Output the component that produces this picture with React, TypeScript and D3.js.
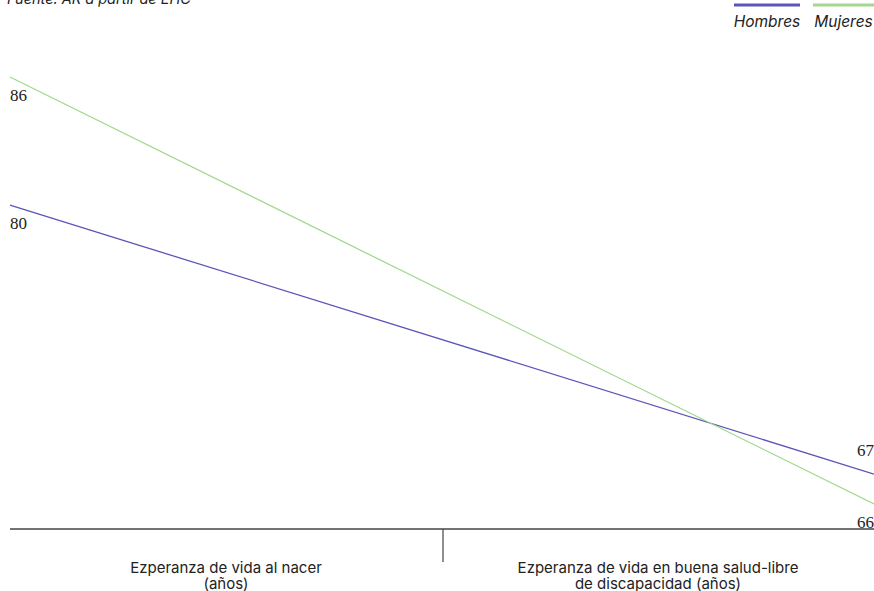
import React from "react";
import * as d3 from "d3";

const categories = ["Ezperanza de vida al nacer|(años)", "Ezperanza de vida en buena salud-libre|de discapacidad (años)"];
const seriesNames = ["Hombres", "Mujeres"];
const hombres = [80.0, 67.4];
const mujeres = [86.0, 66.0];
const colors = ["#5b55b9", "#a3d88f"];

const W = 874;
const H = 591;

export default function App() {
  const x = d3.scalePoint<string>().domain(categories).range([10, 874]);
  const band = d3.scaleBand<string>().domain(categories).range([10, 874]);
  const y = d3.scaleLinear().domain([66, 86]).range([504, 77]);
  const line = d3
    .line<number>()
    .x((_, i) => x(categories[i]) as number)
    .y((d) => y(d));
  const series = [hombres, mujeres];
  const fmt = d3.format(".0f");
  const axisY = 529;
  const sans = "Inter, 'Noto Sans', sans-serif";
  const serif = "'Liberation Serif', 'DejaVu Serif', serif";
  const topEnd = series.reduce((a, b) => (a[1] > b[1] ? a : b));
  return (
    <svg
      width={W}
      height={H}
      style={{ position: "absolute", left: 0, top: 0, background: "#fff" }}
    >
      <text x={7} y={4} fontFamily={sans} fontStyle="italic" fontSize={14.5} fill="#222">
        Fuente: AR a partir de EHC
      </text>
      {seriesNames.map((n, i) => {
        const lx = i === 0 ? 734 : 813;
        const lw = i === 0 ? 66 : 61;
        return (
          <g key={n}>
            <line x1={lx} x2={lx + lw} y1={5} y2={5} stroke={colors[i]} strokeWidth={3} />
            <text x={lx + lw / 2} y={27} textAnchor="middle" fontFamily={sans} fontStyle="italic" fontSize={15.5} fill="#222">
              {n}
            </text>
          </g>
        );
      })}
      {series.map((s, i) => (
        <path key={i} d={line(s) || ""} fill="none" stroke={colors[i]} strokeWidth={1.3} />
      ))}
      {series.map((s, i) => (
        <g key={"l" + i} fontFamily={serif} fontSize={17} fill="#222">
          <text x={10} y={y(s[0]) + 24}>{fmt(s[0])}</text>
          <text x={874} y={s === topEnd ? y(s[1]) - 18 : y(s[1]) + 24} textAnchor="end">
            {fmt(s[1])}
          </text>
        </g>
      ))}
      <line x1={10} x2={874} y1={axisY} y2={axisY} stroke="#444" strokeWidth={1.5} />
      <line x1={443} x2={443} y1={axisY} y2={562} stroke="#444" strokeWidth={1.2} />
      {categories.map((c) => {
        const cx = (band(c) as number) + band.bandwidth() / 2;
        return (
          <text key={c} x={cx} textAnchor="middle" fontFamily={sans} fontSize={15} fill="#222">
            {c.split("|").map((t, j) => (
              <tspan key={j} x={cx} y={573 + j * 16}>
                {t}
              </tspan>
            ))}
          </text>
        );
      })}
    </svg>
  );
}
